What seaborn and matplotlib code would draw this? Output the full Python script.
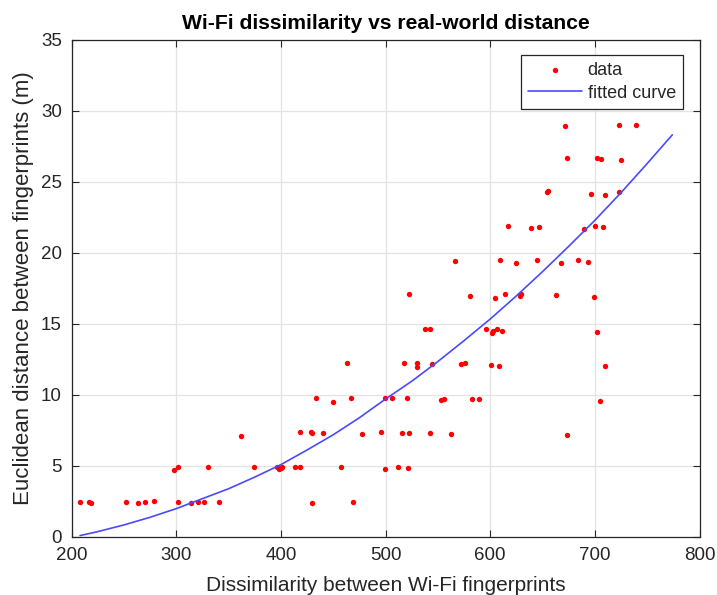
import matplotlib
matplotlib.use("Agg")
import matplotlib.pyplot as plt
import seaborn as sns
import pandas as pd

# ---- data ----
dissimilarity = [
    207.9, 216.8, 218.4, 252.2, 263.6, 270.3, 278.4, 301.9, 314.1, 321.0, 326.5, 340.4, 429.3, 468.6,
    297.5, 301.3, 330.0, 374.1, 395.9, 398.4, 399.7, 401.3, 413.4, 418.5, 457.1, 499.7, 512.0, 521.5,
    362.1, 417.9, 428.7, 429.7, 440.5, 477.7, 495.6, 515.2, 522.3, 542.6, 562.4, 673.0,
    433.2, 449.4, 466.9, 499.1, 505.8, 520.4, 553.1, 555.4, 583.0, 589.1, 704.6,
    463.1, 517.2, 529.6, 529.6, 544.5, 572.4, 575.8, 600.4, 608.1, 709.4,
    537.8, 542.9, 596.1, 601.6, 602.9, 606.4, 611.5, 702.1,
    522.1, 581.1, 604.6, 614.2, 628.3, 629.8, 663.0, 698.9,
    566.6, 609.3, 624.9, 645.0, 667.8, 683.4, 693.3,
    616.7, 638.9, 646.9, 689.8, 700.3, 707.6,
    654.0, 655.2, 696.7, 710.0, 722.8,
    673.7, 701.8, 706.2, 725.3,
    671.6, 722.8, 739.0,
]
distance = [
    2.49, 2.49, 2.37, 2.49, 2.42, 2.49, 2.51, 2.49, 2.39, 2.46, 2.49, 2.46, 2.42, 2.49,
    4.70, 4.93, 4.95, 4.93, 4.95, 4.79, 4.84, 4.93, 4.91, 4.91, 4.91, 4.77, 4.91, 4.84,
    7.09, 7.37, 7.37, 7.35, 7.35, 7.23, 7.37, 7.35, 7.30, 7.35, 7.27, 7.16,
    9.79, 9.53, 9.79, 9.81, 9.81, 9.79, 9.65, 9.74, 9.74, 9.70, 9.60,
    12.25, 12.25, 12.25, 11.95, 12.18, 12.20, 12.23, 12.11, 12.06, 12.02,
    14.65, 14.67, 14.65, 14.37, 14.51, 14.65, 14.53, 14.46,
    17.09, 16.99, 16.83, 17.09, 16.99, 17.09, 17.06, 16.88,
    19.44, 19.51, 19.27, 19.51, 19.32, 19.49, 19.39,
    21.92, 21.78, 21.85, 21.69, 21.92, 21.83,
    24.30, 24.35, 24.18, 24.11, 24.27,
    26.67, 26.71, 26.62, 26.57,
    28.96, 29.04, 29.04,
]
curve_x = [208, 225, 250, 275, 300, 325, 350, 375, 400, 425, 450, 475, 500,
           525, 550, 575, 600, 625, 650, 675, 700, 725, 750, 774]
curve_y = [0.10, 0.38, 0.85, 1.39, 2.0, 2.7, 3.4, 4.22, 5.1, 6.13, 7.2, 8.4, 9.72,
           10.97, 12.36, 13.83, 15.35, 16.98, 18.69, 20.47, 22.3, 24.25, 26.3, 28.32]

x_ticks = [200, 300, 400, 500, 600, 700, 800]
y_ticks = [0, 5, 10, 15, 20, 25, 30, 35]

title = "Wi-Fi dissimilarity vs real-world distance"
x_label = "Dissimilarity between Wi-Fi fingerprints"
y_label = "Euclidean distance between fingerprints (m)"

# ---- style ----
sns.set_theme(style="white")
plt.rcParams["font.family"] = ["Liberation Sans", "DejaVu Sans"]
text_col = "#262626"

fig = plt.figure(figsize=(7.17, 5.95), dpi=100)
ax = fig.add_axes([0.1, 0.0975, 0.8756, 0.8353])

pts = pd.DataFrame({"x": dissimilarity, "y": distance})
crv = pd.DataFrame({"x": curve_x, "y": curve_y})

sns.scatterplot(data=pts, x="x", y="y", ax=ax, color="#ff0000", s=15,
                linewidth=0, label="data", zorder=3)
sns.lineplot(data=crv, x="x", y="y", ax=ax, color="#4a4aff", linewidth=1.2,
             sort=False, estimator=None, label="fitted curve", zorder=4)

ax.set_xlim(200, 800)
ax.set_ylim(0, 35)
ax.set_xticks(x_ticks)
ax.set_yticks(y_ticks)
ax.grid(True, color="#e3e3e3", linewidth=0.9)
ax.set_axisbelow(True)
for s in ax.spines.values():
    s.set_color("#262626")
    s.set_linewidth(0.9)
ax.tick_params(direction="in", length=5, width=0.8, color="#262626",
               labelsize=13.5, labelcolor=text_col, top=True, right=True,
               bottom=True, left=True, pad=7)

ax.set_title(title, fontsize=15.2, fontweight="bold", color="#000000", pad=8)
ax.set_xlabel(x_label, fontsize=15, color=text_col, labelpad=9)
ax.set_ylabel(y_label, fontsize=16, color=text_col, labelpad=5)

leg = ax.legend(loc="upper right", bbox_to_anchor=(0.9737, 0.9698),
                borderaxespad=0, fancybox=False, framealpha=1,
                edgecolor="#262626", fontsize=13, handlelength=3.0,
                labelspacing=0.3, borderpad=0.4, handletextpad=0.3)
leg.get_frame().set_linewidth(0.9)
for t in leg.get_texts():
    t.set_color(text_col)

fig.savefig("out.png", dpi=100)
